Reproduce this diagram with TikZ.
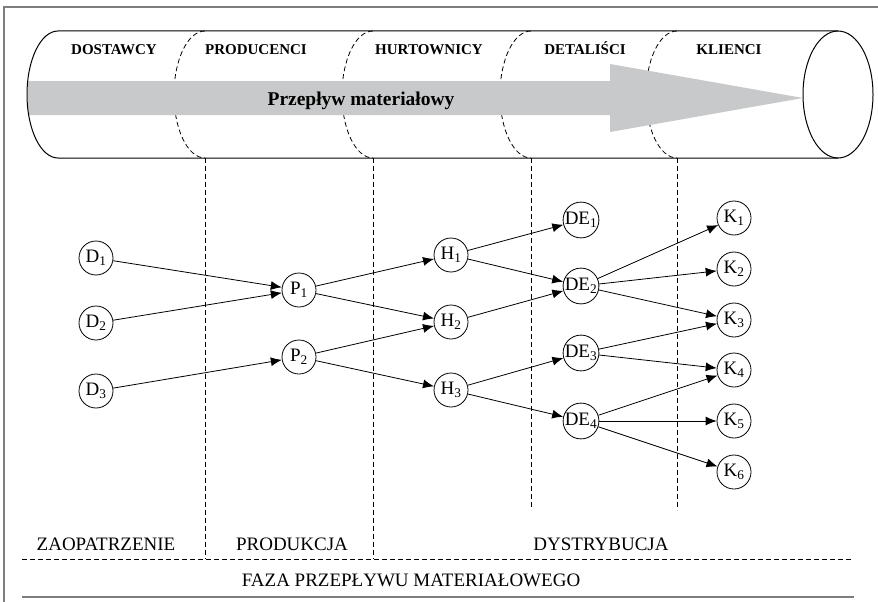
\documentclass[tikz,border=0pt]{standalone}
\usepackage{fontspec}
\setmainfont{Liberation Serif}
\usepackage{xcolor}
\usetikzlibrary{arrows.meta}

\definecolor{flowgray}{RGB}{200,201,203}
\definecolor{framegray}{RGB}{125,125,125}

\tikzset{
    stage/.style={circle, draw, line width=0.8pt, minimum size=34pt, inner sep=0pt, font=\fontsize{19}{19}\selectfont},
    flow/.style={-{Latex[length=11pt,width=9pt]}, line width=0.8pt},
    cut/.style={line width=0.8pt, dash pattern=on 5pt off 3pt},
    head/.style={font=\fontsize{15}{15}\selectfont\bfseries, anchor=base},
    phase/.style={font=\fontsize{19}{19}\selectfont, anchor=base}
}

\begin{document}
\begin{tikzpicture}[x=1pt, y=-1pt]
    \useasboundingbox (0,0) rectangle (878,602);
    \draw[framegray, line width=1.2pt] (4,602) -- (4,7) -- (878,7);

    % pipe cross sections
    \draw[cut] (205,31) arc[start angle=270, end angle=90, x radius=31, y radius=63.5];
    \draw[cut] (373,31) arc[start angle=270, end angle=90, x radius=31, y radius=63.5];
    \draw[cut] (531,31) arc[start angle=270, end angle=90, x radius=31, y radius=63.5];
    \draw[cut] (677,31) arc[start angle=270, end angle=90, x radius=31, y radius=63.5];

    \fill[flowgray] (28,81) -- (610,81) -- (610,64) -- (803,98) -- (610,132) -- (610,115) -- (28,115) -- cycle;
    \node[font=\fontsize{19.5}{19.5}\selectfont\bfseries, anchor=base] (flowtxt) at (361,106) {Przepływ materiałowy};

    \draw[line width=1pt] (838,31) -- (58,31) arc[start angle=270, end angle=90, x radius=31, y radius=63.5] -- (838,158);
    \draw[line width=1pt] (838,94.5) ellipse[x radius=35, y radius=63.5];

    \node[head] (dost) at (114,55) {DOSTAWCY};
    \node[head] (prod) at (256,55) {PRODUCENCI};
    \node[head] (hurt) at (429,55) {HURTOWNICY};
    \node[head] (detal) at (585,55) {DETALIŚCI};
    \node[head] (klient) at (729,55) {KLIENCI};

    \draw[cut] (205,158) -- (205,559);
    \draw[cut] (373,158) -- (373,559);
    \draw[cut] (531,158) -- (531,508);
    \draw[cut] (677,158) -- (677,510);

    \node[stage] (d1) at (96,258) {D\textsubscript{1}};
    \node[stage] (d2) at (96,323) {D\textsubscript{2}};
    \node[stage] (d3) at (96,391) {D\textsubscript{3}};
    \node[stage] (p1) at (299,290) {P\textsubscript{1}};
    \node[stage] (p2) at (299,357) {P\textsubscript{2}};
    \node[stage] (h1) at (451,255) {H\textsubscript{1}};
    \node[stage] (h2) at (451,322) {H\textsubscript{2}};
    \node[stage] (h3) at (451,390) {H\textsubscript{3}};
    \node[stage] (de1) at (581,220) {DE\textsubscript{1}};
    \node[stage] (de2) at (581,286) {DE\textsubscript{2}};
    \node[stage] (de3) at (581,353) {DE\textsubscript{3}};
    \node[stage] (de4) at (581,421) {DE\textsubscript{4}};
    \node[stage] (k1) at (734,218) {K\textsubscript{1}};
    \node[stage] (k2) at (734,269) {K\textsubscript{2}};
    \node[stage] (k3) at (734,320) {K\textsubscript{3}};
    \node[stage] (k4) at (734,370) {K\textsubscript{4}};
    \node[stage] (k5) at (734,421) {K\textsubscript{5}};
    \node[stage] (k6) at (734,472) {K\textsubscript{6}};

    \draw[flow] (d1) -- (p1);
    \draw[flow] (d2) -- (p1);
    \draw[flow] (d3) -- (p2);
    \draw[flow] (p1) -- (h1);
    \draw[flow] (p1) -- (h2);
    \draw[flow] (p2) -- (h2);
    \draw[flow] (p2) -- (h3);
    \draw[flow] (h1) -- (de1);
    \draw[flow] (h1) -- (de2);
    \draw[flow] (h2) -- (de2);
    \draw[flow] (h3) -- (de3);
    \draw[flow] (h3) -- (de4);
    \draw[flow] (de2) -- (k1);
    \draw[flow] (de2) -- (k2);
    \draw[flow] (de2) -- (k3);
    \draw[flow] (de3) -- (k3);
    \draw[flow] (de3) -- (k4);
    \draw[flow] (de4) -- (k4);
    \draw[flow] (de4) -- (k5);
    \draw[flow] (de4) -- (k6);

    \node[phase] (zaop) at (106,550) {ZAOPATRZENIE};
    \node[phase] (produk) at (292,550) {PRODUKCJA};
    \node[phase] (dystr) at (601,550) {DYSTRYBUCJA};
    \draw[cut] (22,559) -- (852,559); % phase divider
    \node[phase] (faza) at (411,586) {FAZA PRZEPŁYWU MATERIAŁOWEGO};
    \draw[framegray, line width=1.2pt] (22,597) -- (854,597);
\end{tikzpicture}
\end{document}
